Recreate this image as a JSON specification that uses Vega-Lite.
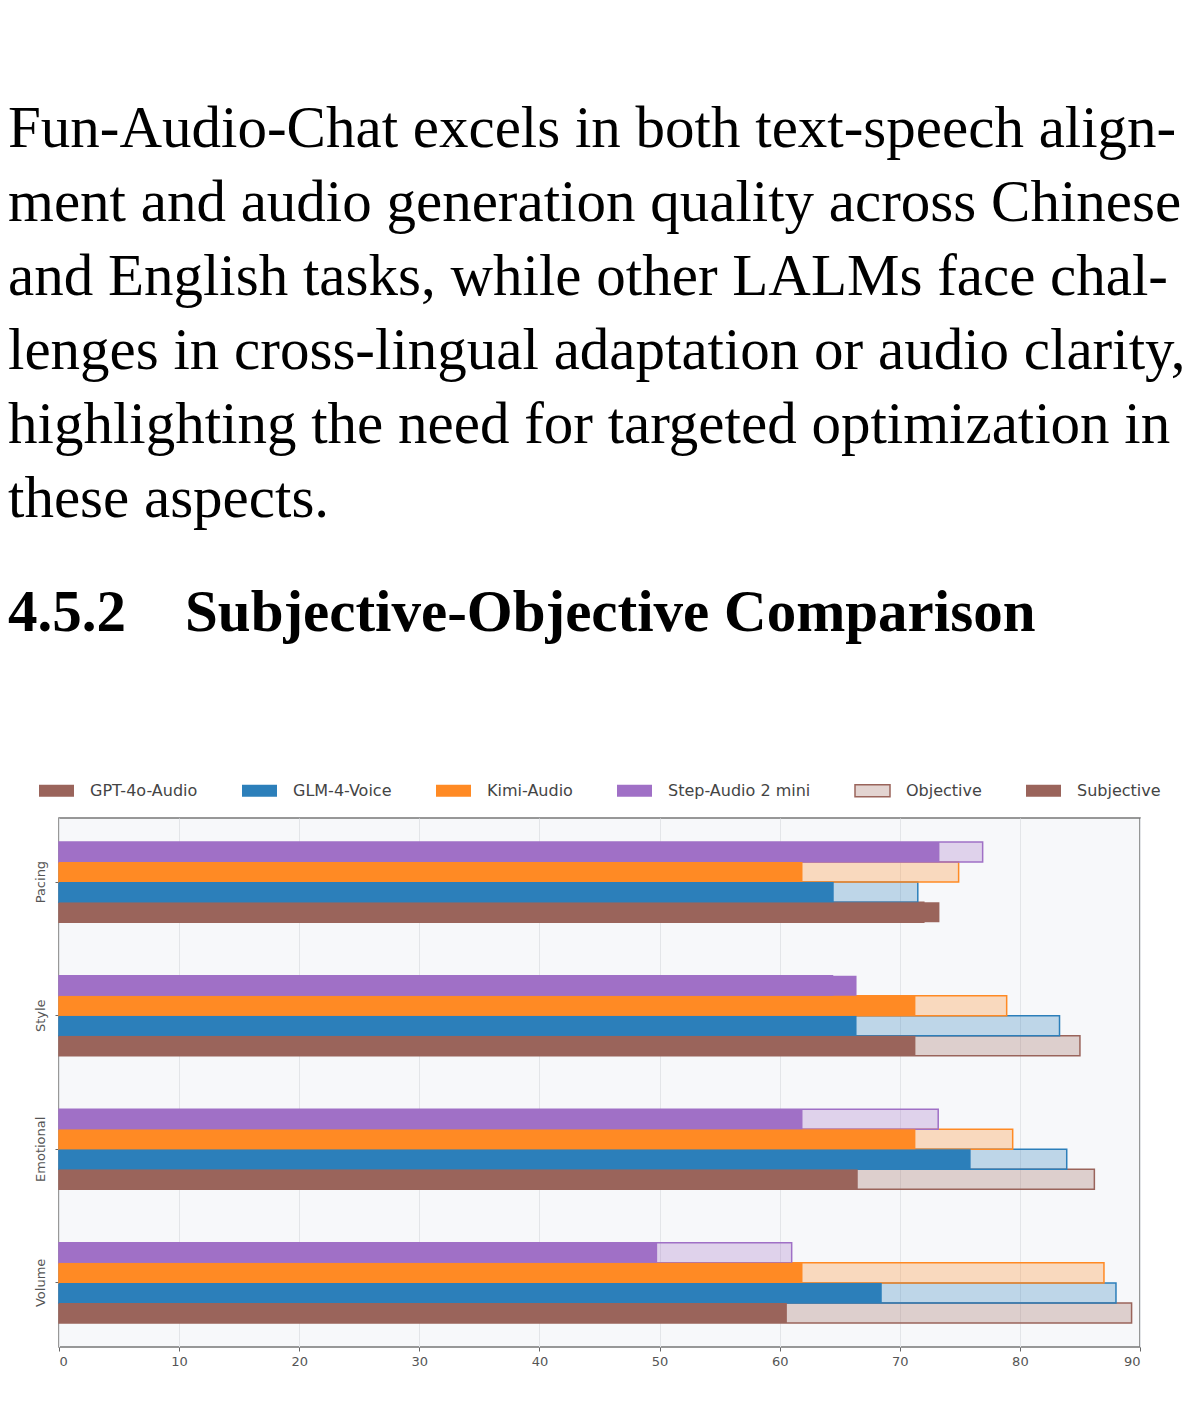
{
  "$schema": "https://vega.github.io/schema/vega-lite/v6.json",
  "autosize": {"type": "none"},
  "width": 1081,
  "height": 529,
  "padding": {"left": 59, "top": 818, "right": 60, "bottom": 63},
  "background": "white",
  "title": {
    "text": [
      "Fun-Audio-Chat excels in both text-speech align-",
      "ment and audio generation quality across Chinese",
      "and English tasks, while other LALMs face chal-",
      "lenges in cross-lingual adaptation or audio clarity,",
      "highlighting the need for targeted optimization in",
      "these aspects."
    ],
    "subtitle": "4.5.2\u00a0\u00a0\u00a0\u00a0Subjective-Objective Comparison",
    "anchor": "start",
    "frame": "group",
    "dx": -51,
    "offset": 129,
    "font": "Liberation Serif",
    "fontSize": 59,
    "fontWeight": "normal",
    "lineHeight": 74,
    "color": "#000000",
    "subtitleFont": "Liberation Serif",
    "subtitleFontSize": 59,
    "subtitleFontWeight": "bold",
    "subtitleColor": "#000000",
    "subtitleLineHeight": 74,
    "subtitlePadding": 55
  },
  "data": {
    "values": [
      {"category": "Pacing", "model": "GPT-4o-Audio", "type": "Subjective", "value": 73.3},
      {"category": "Pacing", "model": "GPT-4o-Audio", "type": "Objective", "value": 72.0},
      {"category": "Pacing", "model": "GLM-4-Voice", "type": "Subjective", "value": 64.5},
      {"category": "Pacing", "model": "GLM-4-Voice", "type": "Objective", "value": 71.5},
      {"category": "Pacing", "model": "Kimi-Audio", "type": "Subjective", "value": 61.9},
      {"category": "Pacing", "model": "Kimi-Audio", "type": "Objective", "value": 74.9},
      {"category": "Pacing", "model": "Step-Audio 2 mini", "type": "Subjective", "value": 73.3},
      {"category": "Pacing", "model": "Step-Audio 2 mini", "type": "Objective", "value": 76.9},
      {"category": "Style", "model": "GPT-4o-Audio", "type": "Subjective", "value": 71.3},
      {"category": "Style", "model": "GPT-4o-Audio", "type": "Objective", "value": 85.0},
      {"category": "Style", "model": "GLM-4-Voice", "type": "Subjective", "value": 66.4},
      {"category": "Style", "model": "GLM-4-Voice", "type": "Objective", "value": 83.3},
      {"category": "Style", "model": "Kimi-Audio", "type": "Subjective", "value": 71.3},
      {"category": "Style", "model": "Kimi-Audio", "type": "Objective", "value": 78.9},
      {"category": "Style", "model": "Step-Audio 2 mini", "type": "Subjective", "value": 66.4},
      {"category": "Style", "model": "Step-Audio 2 mini", "type": "Objective", "value": 64.4},
      {"category": "Emotional", "model": "GPT-4o-Audio", "type": "Subjective", "value": 66.5},
      {"category": "Emotional", "model": "GPT-4o-Audio", "type": "Objective", "value": 86.2},
      {"category": "Emotional", "model": "GLM-4-Voice", "type": "Subjective", "value": 75.9},
      {"category": "Emotional", "model": "GLM-4-Voice", "type": "Objective", "value": 83.9},
      {"category": "Emotional", "model": "Kimi-Audio", "type": "Subjective", "value": 71.3},
      {"category": "Emotional", "model": "Kimi-Audio", "type": "Objective", "value": 79.4},
      {"category": "Emotional", "model": "Step-Audio 2 mini", "type": "Subjective", "value": 61.9},
      {"category": "Emotional", "model": "Step-Audio 2 mini", "type": "Objective", "value": 73.2},
      {"category": "Volume", "model": "GPT-4o-Audio", "type": "Subjective", "value": 60.6},
      {"category": "Volume", "model": "GPT-4o-Audio", "type": "Objective", "value": 89.3},
      {"category": "Volume", "model": "GLM-4-Voice", "type": "Subjective", "value": 68.5},
      {"category": "Volume", "model": "GLM-4-Voice", "type": "Objective", "value": 88.0},
      {"category": "Volume", "model": "Kimi-Audio", "type": "Subjective", "value": 61.9},
      {"category": "Volume", "model": "Kimi-Audio", "type": "Objective", "value": 87.0},
      {"category": "Volume", "model": "Step-Audio 2 mini", "type": "Subjective", "value": 49.8},
      {"category": "Volume", "model": "Step-Audio 2 mini", "type": "Objective", "value": 61.0}
    ]
  },
  "encoding": {
    "y": {
      "field": "category",
      "type": "nominal",
      "sort": ["Pacing", "Style", "Emotional", "Volume"],
      "scale": {"paddingInner": 0.4, "paddingOuter": 0.18},
      "axis": {
        "title": null,
        "labelAngle": 270,
        "labelFont": "DejaVu Sans",
        "labelFontSize": 13,
        "labelColor": "#555555",
        "labelPadding": 8,
        "tickSize": 4,
        "tickColor": "#666666",
        "domain": false,
        "grid": false
      }
    },
    "yOffset": {
      "field": "model",
      "type": "nominal",
      "sort": ["Step-Audio 2 mini", "Kimi-Audio", "GLM-4-Voice", "GPT-4o-Audio"],
      "scale": {"paddingInner": 0, "paddingOuter": 0}
    },
    "x": {
      "field": "value",
      "type": "quantitative",
      "scale": {"domain": [0, 90], "nice": false},
      "axis": {
        "title": null,
        "values": [0, 10, 20, 30, 40, 50, 60, 70, 80, 90],
        "labelFont": "DejaVu Sans",
        "labelFontSize": 13,
        "labelColor": "#555555",
        "labelPadding": 4,
        "tickSize": 4,
        "tickColor": "#666666",
        "domain": false,
        "grid": true,
        "gridColor": "#e3e5e8",
        "gridWidth": 1
      }
    }
  },
  "layer": [
    {
      "transform": [{"filter": "datum.type === 'Objective'"}],
      "mark": {"type": "bar", "fillOpacity": 0.28, "strokeWidth": 1.5},
      "encoding": {
        "color": {
          "field": "model",
          "type": "nominal",
          "scale": {
            "domain": ["GPT-4o-Audio", "GLM-4-Voice", "Kimi-Audio", "Step-Audio 2 mini", "Objective", "Subjective"],
            "range": ["#9a645b", "#2c7fba", "#ff8a24", "#a070c6", "#9a645b", "#9a645b"]
          },
          "legend": {
            "title": null,
            "orient": "none",
            "legendX": -21,
            "legendY": -46,
            "direction": "horizontal",
            "columns": 6,
            "padding": 0,
            "columnPadding": 41,
            "symbolType": "M-1,-0.34L1,-0.34L1,0.34L-1,0.34Z",
            "symbolSize": 1225,
            "symbolStrokeWidth": 0,
            "labelFont": "DejaVu Sans",
            "labelFontSize": 16,
            "labelColor": "#444444",
            "labelOffset": 15,
            "encode": {
              "symbols": {
                "update": {
                  "fillOpacity": [{"test": "datum.label === 'Objective'", "value": 0.28}, {"value": 1}],
                  "stroke": [{"test": "datum.label === 'Objective'", "value": "#9a645b"}, {"value": "transparent"}],
                  "strokeWidth": {"value": 1.5},
                  "opacity": {"value": 1}
                }
              }
            }
          }
        },
        "stroke": {
          "field": "model",
          "type": "nominal",
          "scale": {
            "domain": ["GPT-4o-Audio", "GLM-4-Voice", "Kimi-Audio", "Step-Audio 2 mini"],
            "range": ["#9a645b", "#2c7fba", "#ff8a24", "#a070c6"]
          },
          "legend": null
        }
      }
    },
    {
      "transform": [{"filter": "datum.type === 'Subjective'"}],
      "mark": {"type": "bar", "fillOpacity": 1},
      "encoding": {
        "color": {"field": "model", "type": "nominal"}
      }
    }
  ],
  "config": {
    "view": {"fill": "#f7f8fa", "stroke": "#777777", "strokeWidth": 1.5},
    "bar": {"cornerRadius": 0}
  }
}
